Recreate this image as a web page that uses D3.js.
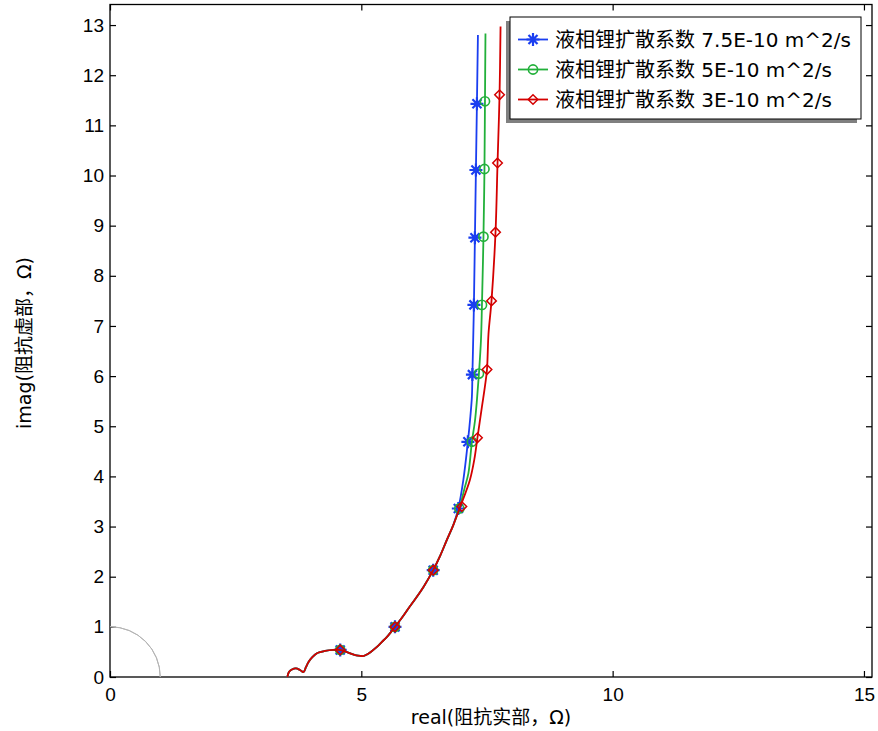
<!DOCTYPE html>
<html>
<head>
<meta charset="utf-8">
<script src="https://cdn.jsdelivr.net/npm/d3@7"></script>
<style>
  body { margin: 0; background: #fff; }
  svg { display: block; font-family: "DejaVu Sans", "Noto Sans CJK SC", sans-serif; }
</style>
</head>
<body>
<svg width="878" height="731"></svg>
<script>
// шаг по осям
const xTicks = [0, 5, 10, 15];
const yTicks = d3.range(0, 14);

const seriesNames = [
    "液相锂扩散系数 7.5E-10 m^2/s",
    "液相锂扩散系数 5E-10 m^2/s",
    "液相锂扩散系数 3E-10 m^2/s"
];
const seriesColors = ["#1a3ef0", "#22b03a", "#d40000"];

// общий низкочастотный участок (одинаков для всех трех кривых)
const commonPart = [
    [3.53, 0.00], [3.56, 0.10], [3.62, 0.15], [3.70, 0.17], [3.78, 0.14], [3.85, 0.10],
    [3.90, 0.20], [3.95, 0.30], [4.03, 0.40], [4.11, 0.47], [4.20, 0.50], [4.28, 0.52],
    [4.44, 0.54], [4.58, 0.54], [4.70, 0.50], [4.78, 0.47], [4.90, 0.43], [4.98, 0.42],
    [5.05, 0.42], [5.11, 0.45], [5.20, 0.51], [5.31, 0.60], [5.41, 0.70], [5.51, 0.80],
    [5.60, 0.91], [5.67, 1.00], [5.80, 1.17], [5.94, 1.37], [6.07, 1.55], [6.24, 1.80],
    [6.43, 2.13], [6.57, 2.42], [6.70, 2.73], [6.83, 3.03]
];

const tailBlue = [
    [6.93, 3.36], [7.03, 3.93], [7.12, 4.69], [7.17, 5.20], [7.20, 5.59], [7.21, 6.03],
    [7.23, 6.92], [7.24, 7.42], [7.26, 8.76], [7.28, 10.11], [7.30, 11.43], [7.32, 12.80]
];
const tailGreen = [
    [6.95, 3.36], [7.05, 3.75], [7.13, 4.06], [7.20, 4.69], [7.26, 5.10], [7.30, 5.52],
    [7.34, 6.05], [7.38, 6.71], [7.40, 7.42], [7.43, 8.78], [7.45, 10.13], [7.46, 11.48],
    [7.47, 12.83]
];
const tailRed = [
    [6.97, 3.40], [7.16, 3.93], [7.25, 4.35], [7.31, 4.77], [7.40, 5.39], [7.46, 5.80],
    [7.50, 6.13], [7.53, 6.84], [7.59, 7.50], [7.67, 8.87], [7.71, 10.25], [7.75, 11.61],
    [7.77, 12.97]
];

// точки маркеров
const markersBlue = [
    [4.58, 0.54], [5.67, 1.00], [6.43, 2.13], [6.93, 3.36], [7.12, 4.69], [7.21, 6.03],
    [7.24, 7.42], [7.26, 8.76], [7.28, 10.11], [7.30, 11.43]
];
const markersGreen = [
    [4.58, 0.54], [5.67, 1.00], [6.43, 2.13], [6.95, 3.36], [7.20, 4.69], [7.34, 6.05],
    [7.40, 7.42], [7.43, 8.78], [7.45, 10.13], [7.46, 11.48]
];
const markersRed = [
    [4.58, 0.54], [5.67, 1.00], [6.43, 2.13], [7.00, 3.40], [7.31, 4.77], [7.50, 6.13],
    [7.59, 7.50], [7.67, 8.87], [7.71, 10.25], [7.75, 11.61]
];

const curves = [commonPart.concat(tailBlue), commonPart.concat(tailGreen), commonPart.concat(tailRed)];
const markers = [markersBlue, markersGreen, markersRed];
const markerTypes = ["star", "circle", "diamond"];

const svg = d3.select("svg");

let area = { left: 110, right: 872, top: 4.5, bottom: 677 };

const scX = d3.scaleLinear().domain([0, 15.16]).range([area.left, area.right]);
const scY = d3.scaleLinear().domain([0, 13.41]).range([area.bottom, area.top]);

// оси: деления внутрь
svg.append("g")
    .attr("transform", `translate(0, ${area.bottom})`)
    .call(d3.axisBottom(scX).tickValues(xTicks).tickSizeInner(-6).tickSizeOuter(0).tickPadding(11))
    .call(g => g.select(".domain").remove())
    .selectAll("text").style("font-size", "19px").attr("fill", "#000");

svg.append("g")
    .attr("transform", `translate(${area.left}, 0)`)
    .call(d3.axisLeft(scY).tickValues(yTicks).tickSizeInner(-6).tickSizeOuter(0).tickPadding(6))
    .call(g => g.select(".domain").remove())
    .selectAll("text").style("font-size", "19px").attr("fill", "#000");

svg.append("g")
    .attr("transform", `translate(0, ${area.top})`)
    .call(d3.axisTop(scX).tickValues(xTicks).tickSizeInner(-6).tickSizeOuter(0).tickFormat(""))
    .call(g => g.select(".domain").remove());

svg.append("g")
    .attr("transform", `translate(${area.right}, 0)`)
    .call(d3.axisRight(scY).tickValues(yTicks).tickSizeInner(-6).tickSizeOuter(0).tickFormat(""))
    .call(g => g.select(".domain").remove());

svg.selectAll(".tick line").attr("stroke", "#000").attr("stroke-width", 1.2);

// рамка
svg.append("rect")
    .attr("x", area.left).attr("y", area.top)
    .attr("width", area.right - area.left).attr("height", area.bottom - area.top)
    .attr("fill", "none").attr("stroke", "#000").attr("stroke-width", 1.3);

// единичная окружность
const r1 = scX(1) - scX(0);
svg.append("path")
    .attr("d", d3.arc()({ innerRadius: r1, outerRadius: r1, startAngle: 0, endAngle: Math.PI / 2 }))
    .attr("transform", `translate(${scX(0)}, ${scY(0)})`)
    .attr("fill", "none").attr("stroke", "#b4b4b4").attr("stroke-width", 1);

const line = d3.line().x(d => scX(d[0])).y(d => scY(d[1])).curve(d3.curveCatmullRom);

function drawMarker(g, type, x, y, color) {
    if (type === "star") {
        const s = 6.5;
        g.append("path")
            .attr("d", `M${x - s},${y}L${x + s},${y}M${x},${y - s}L${x},${y + s}` +
                       `M${x - 4.5},${y - 4.5}L${x + 4.5},${y + 4.5}M${x - 4.5},${y + 4.5}L${x + 4.5},${y - 4.5}`)
            .attr("stroke", color).attr("stroke-width", 2.2).attr("fill", "none");
    } else if (type === "circle") {
        g.append("circle").attr("cx", x).attr("cy", y).attr("r", 4.6)
            .attr("fill", "none").attr("stroke", color).attr("stroke-width", 1.6);
    } else {
        const s = 4.8;
        g.append("path")
            .attr("d", `M${x},${y - s}L${x + s},${y}L${x},${y + s}L${x - s},${y}Z`)
            .attr("fill", "none").attr("stroke", color).attr("stroke-width", 1.5);
    }
}

const plot = svg.append("g");
curves.forEach((c, i) => {
    plot.append("path")
        .attr("d", line(c))
        .attr("fill", "none")
        .attr("stroke", seriesColors[i])
        .attr("stroke-width", 1.8);
    markers[i].forEach(p => drawMarker(plot, markerTypes[i], scX(p[0]), scY(p[1]), seriesColors[i]));
});

// легенда
const leg = { x: 510, y: 17, w: 351, h: 102 };
svg.append("rect")
    .attr("x", leg.x - 4).attr("y", leg.y + 4).attr("width", leg.w).attr("height", leg.h)
    .attr("fill", "#808080");
svg.append("rect")
    .attr("x", leg.x).attr("y", leg.y).attr("width", leg.w).attr("height", leg.h)
    .attr("fill", "#fff").attr("stroke", "#000").attr("stroke-width", 1);

seriesNames.forEach((name, i) => {
    const cy = 39.5 + i * 30;
    svg.append("line")
        .attr("x1", 518).attr("x2", 548).attr("y1", cy).attr("y2", cy)
        .attr("stroke", seriesColors[i]).attr("stroke-width", 1.8);
    drawMarker(svg, markerTypes[i], 533, cy, seriesColors[i]);
    svg.append("text")
        .attr("x", 555).attr("y", cy + 7.5)
        .style("font-size", "20px")
        .text(name);
});

// подписи осей
svg.append("text")
    .attr("x", 491).attr("y", 724)
    .attr("text-anchor", "middle")
    .style("font-size", "19px")
    .text("real(阻抗实部，Ω)");

svg.append("text")
    .attr("transform", "translate(31, 343) rotate(-90)")
    .attr("text-anchor", "middle")
    .style("font-size", "19px")
    .text("imag(阻抗虚部，Ω)");
</script>
</body>
</html>
